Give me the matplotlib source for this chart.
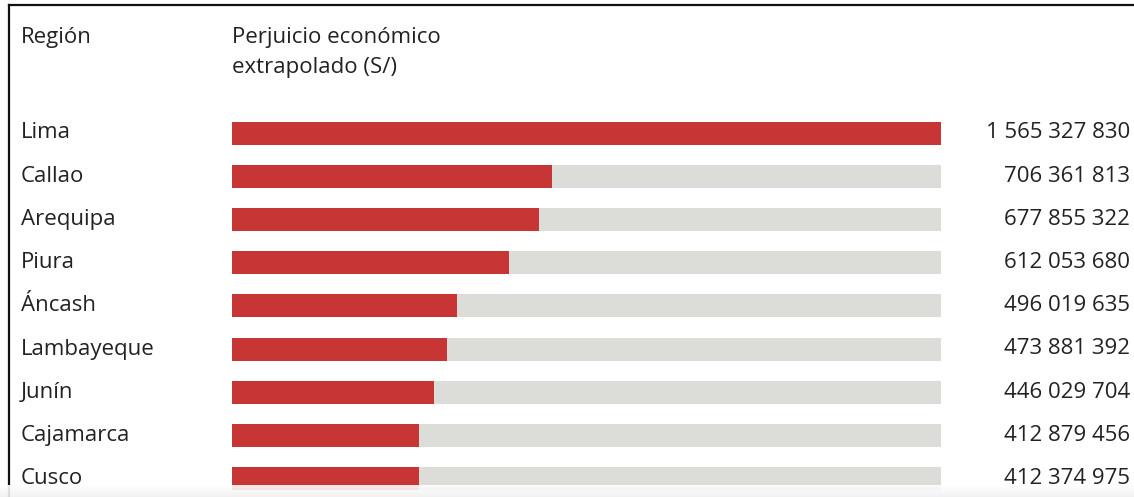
import matplotlib.pyplot as plt
import matplotlib.transforms as mtransforms
import numpy as np

regions = ['Lima', 'Callao', 'Arequipa', 'Piura', 'Áncash', 'Lambayeque',
           'Junín', 'Cajamarca', 'Cusco']
damage = [1565327830, 706361813, 677855322, 612053680, 496019635,
          473881392, 446029704, 412879456, 412374975]

W, H = 1134, 497
RED = '#c73634'
TRACK = '#dcdcd9'
INK = '#222222'
FS = 16

plt.rcParams['font.family'] = ['Open Sans', 'DejaVu Sans']


def fmt(v):
    return f'{v:,}'.replace(',', ' ')


fig = plt.figure(figsize=(W / 100, H / 100), dpi=100)
fig.patch.set_facecolor('white')

# bar area spans the full height; rows are laid out by index
ax = fig.add_axes([232 / W, 0, (941 - 232) / W, 1])
pitch = 43.2
first = 133
ax.set_ylim((H - first) / pitch, -first / pitch)
vmax = max(damage)
ax.set_xlim(0, vmax)
ax.axis('off')

rows = np.arange(len(regions))
ax.barh(rows, [vmax] * len(rows), height=23 / pitch, color=TRACK, linewidth=0)
ax.barh(rows, damage, height=23 / pitch, color=RED, linewidth=0)

lab_tr = mtransforms.blended_transform_factory(fig.transFigure, ax.transData)
for i, (name, v) in enumerate(zip(regions, damage)):
    ax.text(21 / W, i, name, transform=lab_tr, ha='left', va='center',
            fontsize=FS, color=INK)
    ax.text(1130 / W, i, fmt(v), transform=lab_tr, ha='right', va='center',
            fontsize=FS, color=INK)

# column headers
fig.text(21 / W, 1 - 37 / H, 'Región', ha='left', va='center',
         fontsize=FS, color=INK)
fig.text(232 / W, 1 - 37 / H, 'Perjuicio económico', ha='left', va='center',
         fontsize=FS, color=INK)
fig.text(232 / W, 1 - 67 / H, 'extrapolado (S/)', ha='left', va='center',
         fontsize=FS, color=INK)

# frame lines on top and left
fig.add_artist(plt.Line2D([9 / W, 1], [1 - 5 / H, 1 - 5 / H],
                          transform=fig.transFigure, color='#111111', lw=1.6))
fig.add_artist(plt.Line2D([9 / W, 9 / W], [0, 1 - 5 / H],
                          transform=fig.transFigure, color='#111111', lw=1.6))

# soft shadow along the bottom edge
shade = fig.add_axes([0, 0, 1, 12 / H], zorder=5)
grad = np.linspace(0, 1, 50).reshape(-1, 1)
shade.imshow(grad, aspect='auto', cmap='Greys', vmin=0, vmax=8,
             extent=[0, 1, 0, 1], alpha=0.9)
shade.axis('off')

fig.savefig('out.png', dpi=100, facecolor='white')
